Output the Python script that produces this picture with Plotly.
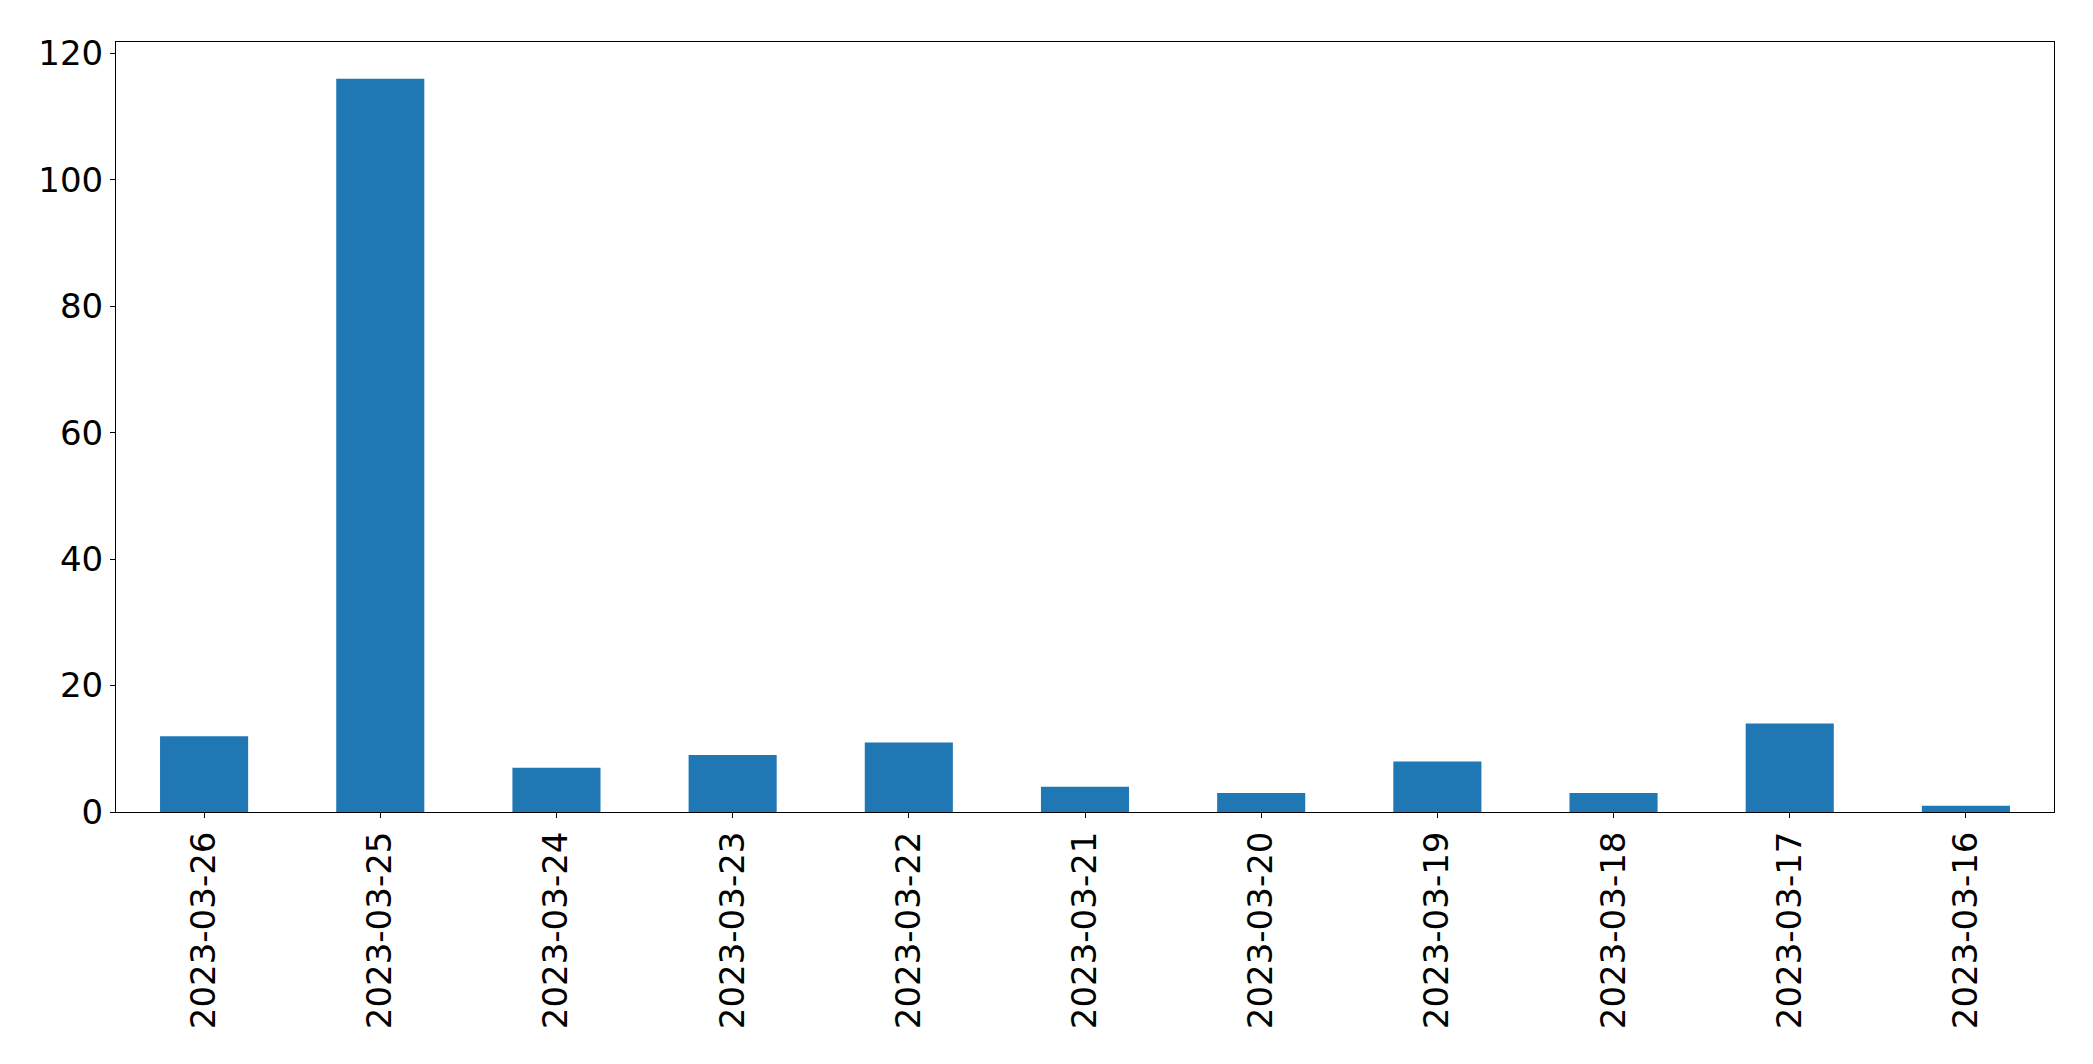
import plotly.graph_objects as go

dates = ["2023-03-26", "2023-03-25", "2023-03-24", "2023-03-23", "2023-03-22",
         "2023-03-21", "2023-03-20", "2023-03-19", "2023-03-18", "2023-03-17",
         "2023-03-16"]
counts = [12, 116, 7, 9, 11, 4, 3, 8, 3, 14, 1]
y_ticks = [0, 20, 40, 60, 80, 100, 120]

fig = go.Figure(go.Bar(x=dates, y=counts, width=0.5, marker=dict(color="#1f77b4", line=dict(width=0))))

fig.update_layout(
    width=2077, height=1048,
    margin=dict(l=108, r=31, t=34, b=244),
    plot_bgcolor="white", paper_bgcolor="white",
    font=dict(family="DejaVu Sans", size=34, color="black"),
    showlegend=False,
)
fig.update_xaxes(
    type="category", range=[-0.5, len(dates) - 0.5],
    tickangle=-90, ticks="outside", ticklen=5, tickcolor="black", tickwidth=1,
    showline=True, linecolor="black", linewidth=1, mirror=True,
    showgrid=False, zeroline=False,
)
fig.update_yaxes(
    range=[0, 121.8], tickvals=y_ticks,
    ticks="outside", ticklen=5, tickcolor="black", tickwidth=1,
    showline=True, linecolor="black", linewidth=1, mirror=True,
    showgrid=False, zeroline=False,
)

fig.write_html("out.html")
